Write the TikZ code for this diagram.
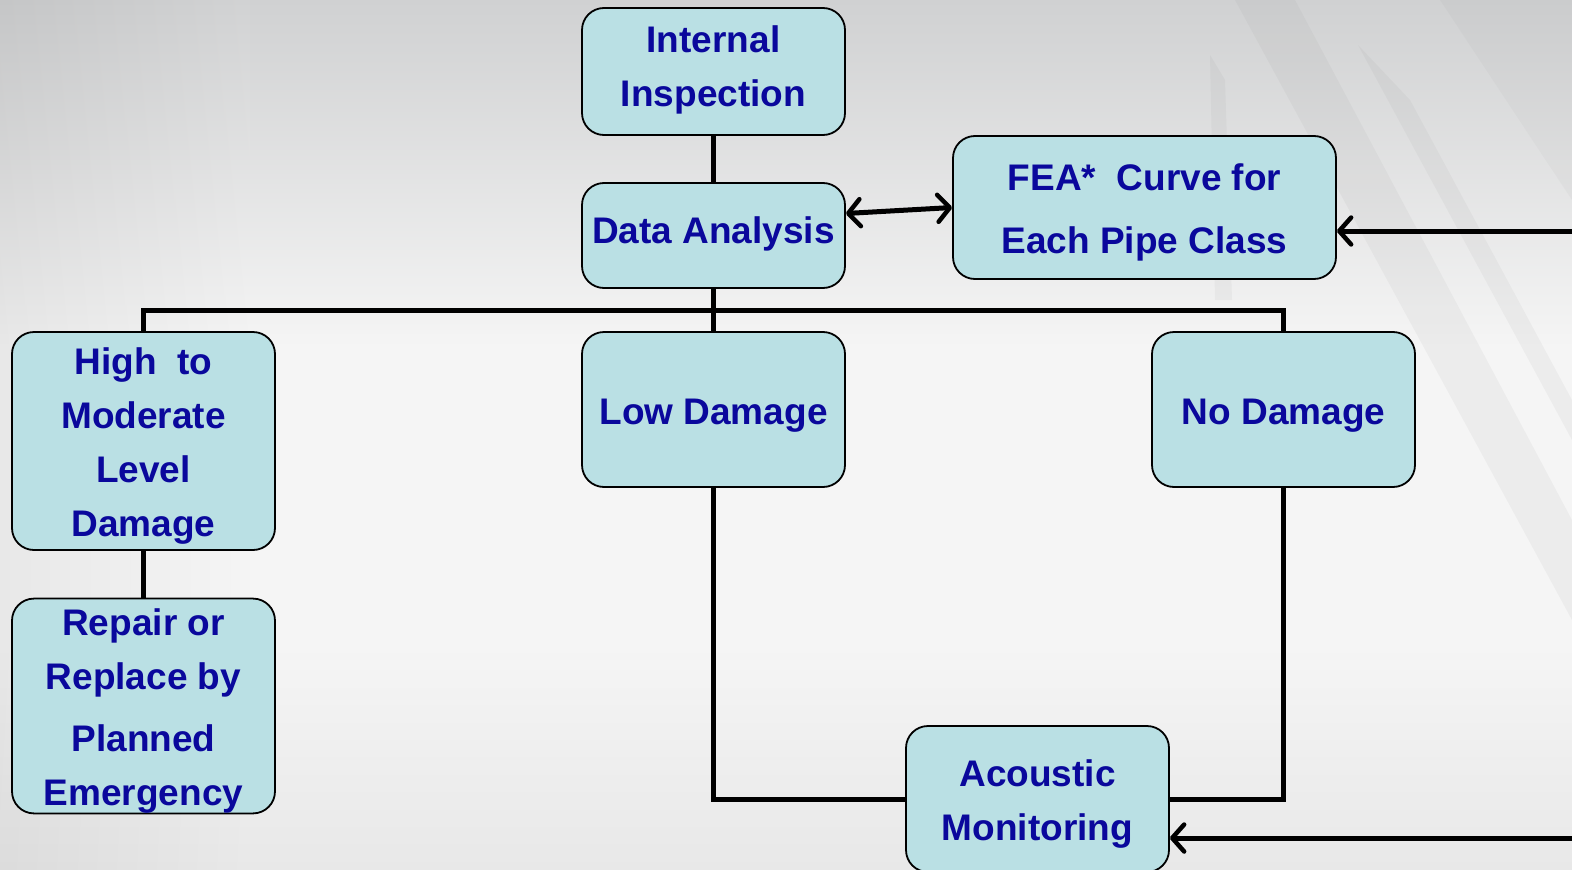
\documentclass[tikz,border=0pt]{standalone}
\usepackage{fontspec}
\setmainfont{Liberation Sans}
\usetikzlibrary{arrows.meta,calc}
\definecolor{boxfill}{RGB}{186,224,228}
\definecolor{txtblue}{RGB}{10,8,156}
\definecolor{bgtop}{RGB}{208,209,210}
\definecolor{bgmid}{RGB}{245,245,245}
\definecolor{bgbot}{RGB}{232,232,232}
\pgfdeclareverticalshading{bgshade}{100bp}{color(0bp)=(bgbot); color(25bp)=(bgbot); color(38bp)=(bgmid); color(55bp)=(bgmid); color(75bp)=(bgtop); color(100bp)=(bgtop)}
\newcommand{\upstrut}{\rule{0pt}{37pt}}
\newcommand{\dnstrut}{\rule[-11.5pt]{0pt}{1pt}}
\tikzset{
  flowbox/.style={draw=black, line width=1.8pt, fill=boxfill, rounded corners=22pt,
    text=txtblue, font=\fontsize{37}{54}\selectfont\bfseries, align=center,
    inner sep=0pt, minimum width=263pt},
  conn/.style={line width=5pt, draw=black},
  arr/.style={conn, -{Straight Barb[length=12pt,width=27pt,line width=4.5pt,round]}},
  darr/.style={conn, {Straight Barb[length=12pt,width=27pt,line width=4.5pt,round]}-{Straight Barb[length=12pt,width=27pt,line width=4.5pt,round]}},
}
\begin{document}
\begin{tikzpicture}[x=1pt,y=-1pt]
\useasboundingbox (0,0) rectangle (1572,870);
% background
\begin{scope}
\clip (0,0) rectangle (1572,870);
\shade[shading=bgshade] (0,0) rectangle (1572,870);
\shade[left color=black, right color=bgmid, opacity=0.05] (0,0) rectangle (250,870);
\fill[gray, opacity=0.07] (1235,0) -- (1295,0) -- (1572,520) -- (1572,620) -- cycle;
\fill[gray, opacity=0.07] (1210,55) -- (1225,80) -- (1232,300) -- (1215,300) -- cycle;
\fill[gray, opacity=0.07] (1358,45) -- (1410,100) -- (1572,400) -- (1572,440) -- cycle;
\fill[gray, opacity=0.05] (1440,0) -- (1572,0) -- (1572,200) -- cycle;
\end{scope}
% nodes
\node[flowbox, minimum height=127pt] (ii) at (713.5,71.5) {Internal\\Inspection\dnstrut};
\node[flowbox, minimum height=105pt] (da) at (713.5,235.5) {Data Analysis\dnstrut};
\node[flowbox, minimum width=383pt, minimum height=143pt,
      font=\fontsize{37}{63}\selectfont\bfseries] (fea) at (1144.5,207.5) {\upstrut FEA*~~Curve for\\Each Pipe Class};
\node[flowbox, minimum height=218pt] (hi) at (143.5,441) {\upstrut High~~to\\Moderate\\Level\\Damage};
\node[flowbox, minimum height=155pt] (low) at (713.5,409.5) {\upstrut Low Damage};
\node[flowbox, minimum height=155pt] (no) at (1283.5,409.5) {\upstrut No Damage};
\node[flowbox, minimum height=214pt] (rep) at (143.5,706) {\upstrut Repair or\\Replace by\\[8pt]Planned\\Emergency};
\node[flowbox, minimum height=146pt] (ac) at (1037.5,799) {\upstrut Acoustic\\Monitoring};
% connectors
\coordinate (bus) at (713.5,310);
\coordinate (r1) at (1572,231);
\coordinate (r2) at (1572,838);
\draw[conn] (ii.south) -- (da.north);
\draw[conn] (da.south) -- (low.north);
\draw[conn] (hi.north) |- (bus) -| (no.north);
\draw[conn] (hi.south) -- (rep.north);
\draw[conn] (low.south) |- (ac.west);
\draw[conn] (no.south) |- (ac.east);
\draw[darr] ($(da.east)+(0,-22)$) -- (fea.west);
\draw[arr] (r1) -- (r1 -| fea.east);
\draw[arr] (r2) -- (r2 -| ac.east);
\end{tikzpicture}
\end{document}
